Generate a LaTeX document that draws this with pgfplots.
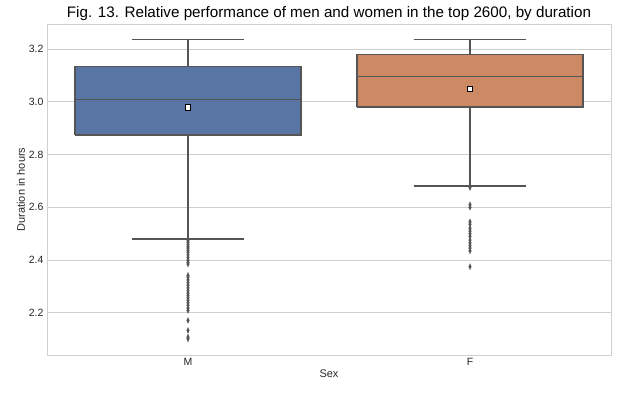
\documentclass[border=0pt]{standalone}
\usepackage{pgfplots}
\pgfplotsset{compat=1.18}
\usepackage{pgfplotstable}
\usepackage{fontspec}
\setmainfont{Liberation Sans}
\definecolor{sbblue}{HTML}{5975A4}
\definecolor{sborange}{HTML}{CC8963}
\definecolor{sbline}{HTML}{555555}
\definecolor{gridc}{HTML}{D0D0D0}
% outliers
\pgfplotstableread{
x y
0 2.475
0 2.468
0 2.460
0 2.452
0 2.445
0 2.437
0 2.430
0 2.420
0 2.410
0 2.400
0 2.392
0 2.385
0 2.342
0 2.335
0 2.325
0 2.315
0 2.305
0 2.295
0 2.285
0 2.275
0 2.266
0 2.257
0 2.247
0 2.238
0 2.228
0 2.218
0 2.209
0 2.171
0 2.133
0 2.108
0 2.101
}\outM
\pgfplotstableread{
x y
1 2.675
1 2.610
1 2.600
1 2.545
1 2.535
1 2.520
1 2.510
1 2.500
1 2.490
1 2.475
1 2.465
1 2.455
1 2.445
1 2.435
1 2.375
}\outF
\begin{document}
\begin{tikzpicture}
\begin{axis}[
  scale only axis, width=564pt, height=331pt,
  xmin=-0.5, xmax=1.5, ymin=2.04, ymax=3.295,
  xtick={0,1}, xticklabels={M,F},
  ytick={2.2,2.4,2.6,2.8,3.0,3.2},
  yticklabel style={/pgf/number format/.cd, fixed, fixed zerofill, precision=1},
  /pgf/number format/assume math mode=true,
  ymajorgrids, major grid style={gridc, line width=0.8pt},
  axis line style={gridc, line width=0.8pt},
  major tick length=0pt,
  tick label style={font=\fontsize{10.5}{12}\selectfont, text=black!85},
  label style={font=\fontsize{11}{13}\selectfont, text=black!85},
  xlabel={Sex}, ylabel={Duration in hours},
  title={Fig. 13. Relative performance of men and women in the top 2600, by duration},
  title style={font=\fontsize{15.2}{17}\selectfont, yshift=-6pt},
  xlabel style={yshift=3pt}, ylabel style={yshift=-3pt},
  clip=false,
]
\coordinate (ll) at (rel axis cs:0,0);
\coordinate (ur) at (rel axis cs:1,1);
% ---- M ----
\addplot[draw=sbline, line width=1.5pt, forget plot] coordinates {(0,3.134) (0,3.237)};
\addplot[draw=sbline, line width=1.5pt, forget plot] coordinates {(-0.2,3.237) (0.2,3.237)};
\addplot[draw=sbline, line width=1.5pt, forget plot] coordinates {(0,2.875) (0,2.479)};
\addplot[draw=sbline, line width=1.5pt, forget plot] coordinates {(-0.2,2.479) (0.2,2.479)};
\addplot[draw=sbline, fill=sbblue, line width=1.5pt, line join=miter, forget plot] coordinates {(-0.4,2.875) (0.4,2.875) (0.4,3.134) (-0.4,3.134) (-0.4,2.875)};
\addplot[draw=sbline, line width=1.5pt, forget plot] coordinates {(-0.4,3.008) (0.4,3.008)};
\addplot[only marks, mark=diamond*, mark size=3pt, mark options={fill=sbline, draw=sbline, line width=0.2pt, xscale=0.6}, forget plot] table[x=x, y=y]{\outM};
\addplot[only marks, mark=square*, mark size=2.7pt, mark options={fill=white, draw=black, line width=0.9pt}, forget plot] coordinates {(0,2.978)};
% ---- F ----
\addplot[draw=sbline, line width=1.5pt, forget plot] coordinates {(1,3.18) (1,3.237)};
\addplot[draw=sbline, line width=1.5pt, forget plot] coordinates {(0.8,3.237) (1.2,3.237)};
\addplot[draw=sbline, line width=1.5pt, forget plot] coordinates {(1,2.98) (1,2.68)};
\addplot[draw=sbline, line width=1.5pt, forget plot] coordinates {(0.8,2.68) (1.2,2.68)};
\addplot[draw=sbline, fill=sborange, line width=1.5pt, line join=miter, forget plot] coordinates {(0.6,2.98) (1.4,2.98) (1.4,3.18) (0.6,3.18) (0.6,2.98)};
\addplot[draw=sbline, line width=1.5pt, forget plot] coordinates {(0.6,3.096) (1.4,3.096)};
\addplot[only marks, mark=diamond*, mark size=3pt, mark options={fill=sbline, draw=sbline, line width=0.2pt, xscale=0.6}, forget plot] table[x=x, y=y]{\outF};
\addplot[only marks, mark=square*, mark size=2.7pt, mark options={fill=white, draw=black, line width=0.9pt}, forget plot] coordinates {(1,3.048)};
\end{axis}
\pgfresetboundingbox
\path ([shift={(-47pt,-41pt)}]ll) rectangle ([shift={(13pt,24pt)}]ur);
\end{tikzpicture}
\end{document}
